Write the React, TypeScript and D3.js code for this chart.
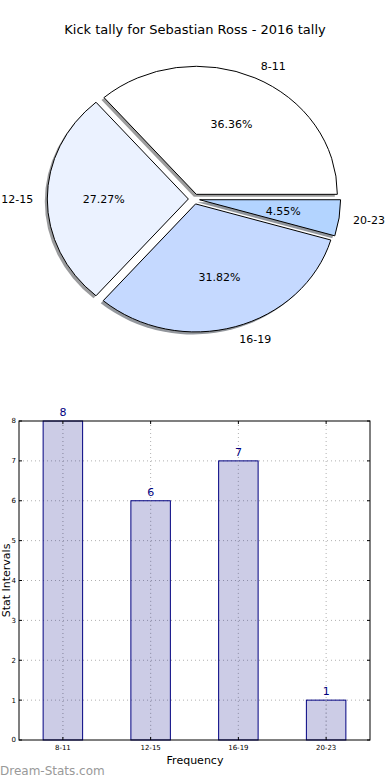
import React from 'react';
import * as d3 from 'd3';

const title = 'Kick tally for Sebastian Ross - 2016 tally';
const categories = ['8-11', '12-15', '16-19', '20-23'];
const counts = [8, 6, 7, 1];
const sliceColors = ['#ffffff', '#ebf2ff', '#c5d9ff', '#b3d4ff'];
const yTicks = [0, 1, 2, 3, 4, 5, 6, 7, 8];

const font = 'DejaVu Sans, sans-serif';

// pie geometry (matplotlib pie without equal aspect -> ellipse)
const cx = 194;
const cy = 199;
const rx = 141;
const ry = 128;
const explode = 0.04;

// bar axes box
const ax = { left: 19, right: 370, top: 421, bottom: 740 };

function darken(c: string) {
  const col = d3.rgb(c);
  return d3.rgb(col.r * 0.3, col.g * 0.3, col.b * 0.3).toString();
}

const App = () => {
  const total = d3.sum(counts);
  // matplotlib: start at 0 rad (east), counterclockwise
  const pie = d3
    .pie<number>()
    .sort(null)
    .value((d) => d)
    .startAngle(Math.PI / 2)
    .endAngle(Math.PI / 2 - 2 * Math.PI);
  const arcs = pie(counts);
  // unit arc, scaled to the ellipse afterwards
  const arc = d3.arc<d3.PieArcDatum<number>>().innerRadius(0).outerRadius(1);

  const x = d3.scaleLinear().domain([-0.5, 3.5]).range([ax.left, ax.right]);
  const y = d3.scaleLinear().domain([0, 8]).range([ax.bottom, ax.top]);
  const barW = x(0.45) - x(0);

  const slices = arcs.map((a, i) => {
    const mid = (a.startAngle + a.endAngle) / 2;
    const ux = Math.sin(mid);
    const uy = -Math.cos(mid);
    const ox = cx + explode * rx * ux;
    const oy = cy + explode * ry * uy;
    return { a, i, ux, uy, ox, oy };
  });

  return (
    <svg width={390} height={780} style={{ position: 'absolute', left: 0, top: 0, background: '#fff' }}>
      <rect width={390} height={780} fill="#fff" />
      <text x={195} y={34} textAnchor="middle" fontFamily={font} fontSize={13} fill="#000">
        {title}
      </text>

      {/* shadows */}
      {slices.map((s) => (
        <path
          key={'sh' + s.i}
          d={arc(s.a) || ''}
          transform={`translate(${s.ox - 2.5},${s.oy + 2.5}) scale(${rx},${ry})`}
          fill={darken(sliceColors[s.i])}
          opacity={0.55}
        />
      ))}
      {slices.map((s) => (
        <path
          key={'sl' + s.i}
          d={arc(s.a) || ''}
          transform={`translate(${s.ox},${s.oy}) scale(${rx},${ry})`}
          fill={sliceColors[s.i]}
          stroke="#000"
          strokeWidth={1}
          vectorEffect="non-scaling-stroke"
        />
      ))}
      {slices.map((s) => {
        const lx = s.ox + 1.1 * rx * s.ux;
        const ly = s.oy + 1.1 * ry * s.uy;
        const px = s.ox + 0.6 * rx * s.ux;
        const py = s.oy + 0.6 * ry * s.uy;
        return (
          <g key={'lb' + s.i} fontFamily={font} fontSize={11} fill="#000">
            <text x={lx} y={ly} dy="0.35em" textAnchor={s.ux > 0 ? 'start' : 'end'}>
              {categories[s.i]}
            </text>
            <text x={px} y={py} dy="0.35em" textAnchor="middle">
              {((counts[s.i] / total) * 100).toFixed(2)}%
            </text>
          </g>
        );
      })}

      {/* bar chart */}
      <g>
        {yTicks.slice(1, -1).map((t) => (
          <line
            key={'gy' + t}
            x1={ax.left}
            x2={ax.right}
            y1={y(t)}
            y2={y(t)}
            stroke="#b0b0b0"
            strokeWidth={1}
            strokeDasharray="1,3"
          />
        ))}
        {categories.map((c, i) => (
          <line
            key={'gx' + c}
            x1={x(i)}
            x2={x(i)}
            y1={ax.top}
            y2={ax.bottom}
            stroke="#b0b0b0"
            strokeWidth={1}
            strokeDasharray="1,3"
          />
        ))}
        {counts.map((v, i) => (
          <g key={'bar' + i}>
            <rect
              x={x(i) - barW / 2}
              y={y(v)}
              width={barW}
              height={y(0) - y(v)}
              fill="rgba(0,0,128,0.2)"
              stroke="#000080"
              strokeWidth={1}
            />
            <line x1={x(i)} x2={x(i)} y1={y(v)} y2={ax.bottom} stroke="#a0a0b8" strokeDasharray="1,3" />
            <text
              x={x(i)}
              y={y(v) - 5}
              textAnchor="middle"
              fontFamily={font}
              fontSize={11}
              fill="#000080"
            >
              {v}
            </text>
          </g>
        ))}
        <rect
          x={ax.left}
          y={ax.top}
          width={ax.right - ax.left}
          height={ax.bottom - ax.top}
          fill="none"
          stroke="#000"
          strokeWidth={1}
        />
        {yTicks.map((t) => (
          <g key={'ty' + t}>
            <line x1={ax.left} x2={ax.left + 3} y1={y(t)} y2={y(t)} stroke="#000" />
            <line x1={ax.right - 3} x2={ax.right} y1={y(t)} y2={y(t)} stroke="#000" />
            <text x={ax.left - 3} y={y(t)} dy="0.35em" textAnchor="end" fontFamily={font} fontSize={7} fill="#000">
              {t}
            </text>
          </g>
        ))}
        {categories.map((c, i) => (
          <g key={'tx' + c}>
            <line x1={x(i)} x2={x(i)} y1={ax.bottom} y2={ax.bottom - 3} stroke="#000" />
            <line x1={x(i)} x2={x(i)} y1={ax.top} y2={ax.top + 3} stroke="#000" />
            <text x={x(i)} y={ax.bottom + 10} textAnchor="middle" fontFamily={font} fontSize={7} fill="#000">
              {c}
            </text>
          </g>
        ))}
        <text x={195} y={764} textAnchor="middle" fontFamily={font} fontSize={11} fill="#000">
          Frequency
        </text>
        <text
          transform={`translate(10,${(ax.top + ax.bottom) / 2}) rotate(-90)`}
          textAnchor="middle"
          fontFamily={font}
          fontSize={11}
          fill="#000"
        >
          Stat Intervals
        </text>
        <text x={0} y={775} fontFamily={font} fontSize={12} fill="#999">
          Dream-Stats.com
        </text>
      </g>
    </svg>
  );
};

export default App;
